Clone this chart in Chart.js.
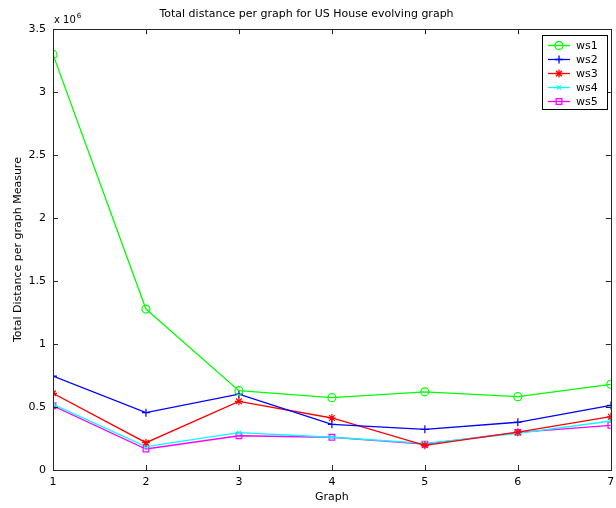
<!DOCTYPE html>
<html>
<head>
<meta charset="utf-8">
<script src="https://cdn.jsdelivr.net/npm/chart.js@4/dist/chart.umd.min.js"></script>
<style>
html,body{margin:0;padding:0;background:#fff;}
#wrap{width:616px;height:508px;position:relative;}
</style>
</head>
<body>
<div id="wrap"><canvas id="c" width="616" height="508"></canvas></div>
<script>
// Graph index (x axis)
const graphs = [1, 2, 3, 4, 5, 6, 7];
// Values in units of 10^6
const ws1 = [3.30, 1.278, 0.63, 0.574, 0.621, 0.582, 0.68];
const ws2 = [0.746, 0.455, 0.603, 0.363, 0.323, 0.379, 0.513];
const ws3 = [0.609, 0.217, 0.545, 0.413, 0.196, 0.300, 0.423];
const ws4 = [0.521, 0.185, 0.296, 0.260, 0.212, 0.290, 0.389];
const ws5 = [0.510, 0.167, 0.272, 0.260, 0.206, 0.299, 0.355];
const seriesNames = ['ws1', 'ws2', 'ws3', 'ws4', 'ws5'];
const yTicks = [0, 0.5, 1, 1.5, 2, 2.5, 3, 3.5];
const titleText = 'Total distance per graph for US House evolving graph';
const xLabel = 'Graph';
const yLabel = 'Total Distance per graph Measure';
const exponentText = 'x 10';
const exponentPow = '6';

const FONT = '"DejaVu Sans", "Liberation Sans", Arial, sans-serif';
const styles = [
  {color: '#00ff00', point: 'circle', r: 4},
  {color: '#0000ff', point: 'cross', r: 4},
  {color: '#ff0000', point: 'star', r: 4},
  {color: '#00ffff', point: 'crossRot', r: 3},
  {color: '#ff00ff', point: 'rect', r: 4}
];
const allSeries = [ws1, ws2, ws3, ws4, ws5];
const datasets = allSeries.map((arr, i) => ({
  label: seriesNames[i],
  data: arr.map((v, j) => ({x: graphs[j], y: v})),
  borderColor: styles[i].color,
  backgroundColor: 'rgba(0,0,0,0)',
  pointStyle: styles[i].point,
  pointRadius: styles[i].r,
  pointBorderWidth: 1.2,
  pointBorderColor: styles[i].color,
  pointBackgroundColor: 'rgba(0,0,0,0)',
  borderWidth: 1.3,
  tension: 0
}));

const framePlugin = {
  id: 'frame',
  afterDraw(chart) {
    const ctx = chart.ctx;
    const a = chart.chartArea;
    const xs = chart.scales.x, ys = chart.scales.y;
    ctx.save();
    ctx.strokeStyle = '#262626';
    ctx.lineWidth = 1;
    ctx.strokeRect(Math.round(a.left) + 0.5, Math.round(a.top) + 0.5, Math.round(a.right - a.left), Math.round(a.bottom - a.top));
    const tl = 5;
    ctx.beginPath();
    graphs.forEach(g => {
      const px = Math.round(xs.getPixelForValue(g)) + 0.5;
      ctx.moveTo(px, a.bottom); ctx.lineTo(px, a.bottom - tl);
      ctx.moveTo(px, a.top); ctx.lineTo(px, a.top + tl);
    });
    yTicks.forEach(t => {
      const py = Math.round(ys.getPixelForValue(t)) + 0.5;
      ctx.moveTo(a.left, py); ctx.lineTo(a.left + tl, py);
      ctx.moveTo(a.right, py); ctx.lineTo(a.right - tl, py);
    });
    ctx.stroke();

    // exponent label
    ctx.fillStyle = '#000';
    ctx.font = '10px ' + FONT;
    ctx.textBaseline = 'alphabetic';
    ctx.textAlign = 'left';
    ctx.fillText(exponentText, a.left + 1, a.top - 6);
    const w = ctx.measureText(exponentText).width;
    ctx.font = '7px ' + FONT;
    ctx.fillText(exponentPow, a.left + 1 + w + 1, a.top - 11);

    // legend
    const lx = 542, ly = 35, lw = 65, lh = 74;
    ctx.fillStyle = '#fff';
    ctx.fillRect(lx, ly, lw, lh);
    ctx.strokeStyle = '#000';
    ctx.strokeRect(lx + 0.5, ly + 0.5, lw, lh);
    chart.data.datasets.forEach((ds, i) => {
      const y = ly + 10 + i * 14;
      ctx.strokeStyle = ds.borderColor;
      ctx.lineWidth = 1.3;
      ctx.beginPath();
      ctx.moveTo(lx + 6, y + 0.5); ctx.lineTo(lx + 28, y + 0.5);
      ctx.stroke();
      ctx.fillStyle = 'rgba(0,0,0,0)';
      Chart.helpers.drawPoint(ctx, {pointStyle: ds.pointStyle, radius: ds.pointRadius, rotation: 0, borderWidth: 1.2}, lx + 17, y + 0.5);
      ctx.fillStyle = '#000';
      ctx.font = '11px ' + FONT;
      ctx.textBaseline = 'middle';
      ctx.fillText(ds.label, lx + 34, y + 1);
    });
    ctx.restore();
  }
};

new Chart(document.getElementById('c'), {
  type: 'line',
  data: {datasets},
  options: {
    responsive: false,
    animation: false,
    layout: {padding: {left: 0, right: 3, top: 0, bottom: 0}},
    plugins: {
      legend: {display: false},
      tooltip: {enabled: false},
      title: {
        display: true,
        text: titleText,
        color: '#000',
        font: {family: FONT, size: 11, weight: 'normal', lineHeight: 1.2},
        padding: {top: 8, bottom: 8}
      }
    },
    scales: {
      x: {
        type: 'linear',
        min: 1, max: 7,
        grid: {display: false, drawTicks: false},
        border: {display: false},
        afterBuildTicks(scale) { scale.ticks = graphs.map(v => ({value: v})); },
        afterFit(scale) { scale.height = 38; scale.paddingLeft = 0; scale.paddingRight = 0; },
        ticks: {color: '#000', font: {family: FONT, size: 11}, padding: 6, maxRotation: 0, autoSkip: false},
        title: {display: true, text: xLabel, color: '#000', font: {family: FONT, size: 11}, padding: {top: 0, bottom: 4}}
      },
      y: {
        type: 'linear',
        min: 0, max: 3.5,
        grid: {display: false, drawTicks: false},
        border: {display: false},
        afterBuildTicks(scale) { scale.ticks = yTicks.map(v => ({value: v})); },
        afterFit(scale) { scale.width = 53; scale.paddingTop = 0; scale.paddingBottom = 0; },
        ticks: {color: '#000', font: {family: FONT, size: 11}, padding: 7, autoSkip: false,
          callback: v => String(v)},
        title: {display: true, text: yLabel, color: '#000', font: {family: FONT, size: 11}, padding: {top: 12, bottom: 0}}
      }
    }
  },
  plugins: [framePlugin]
});
</script>
</body>
</html>
